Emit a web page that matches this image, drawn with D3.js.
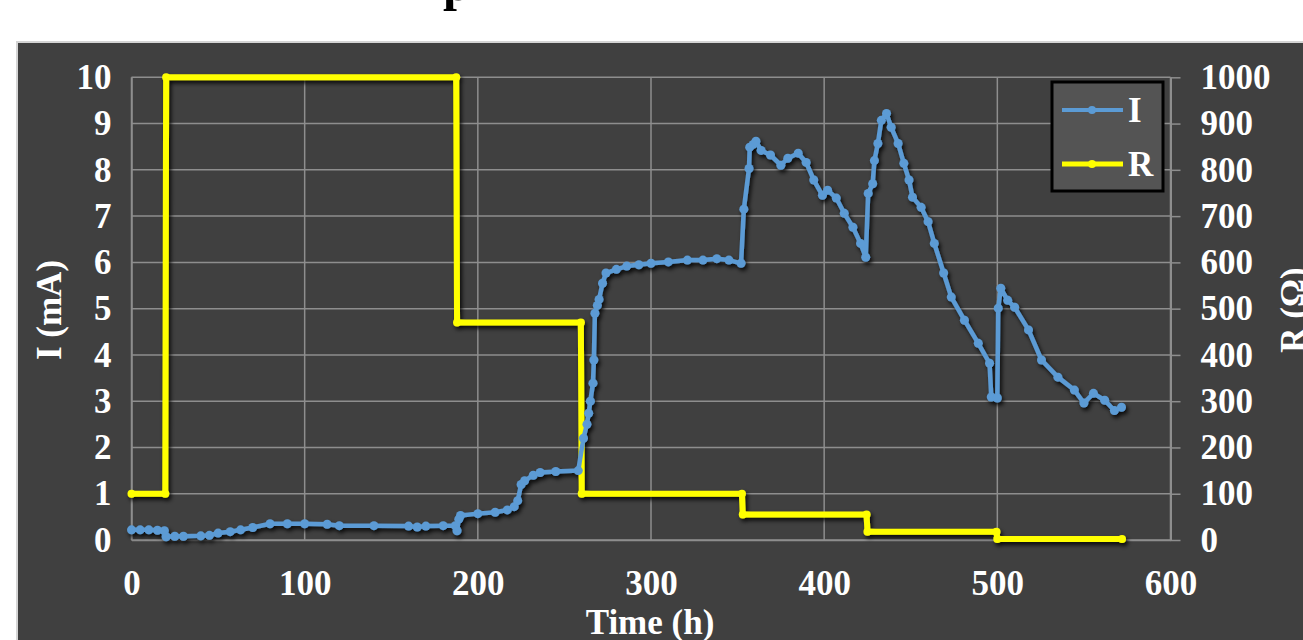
<!DOCTYPE html>
<html>
<head>
<meta charset="utf-8">
<script src="https://cdn.jsdelivr.net/npm/d3@7"></script>
<style>
  body { margin: 0; background: #ffffff; }
  svg { display: block; }
  .tick text { font-family: "Liberation Serif", serif; font-weight: bold; fill: #ffffff; }
</style>
</head>
<body>
<div id="plot"></div>
<script>
// current I (mA) vs time (h)
const timeI = [0, 5, 10, 15, 19, 20, 25, 30, 40, 45, 50, 57, 63, 70, 80, 90, 100, 113, 120, 140,
  160, 165, 170, 180, 187, 188, 189, 190, 200, 210, 217, 221, 223, 225, 227, 232, 236, 245, 258,
  261, 263, 264, 265, 266.5, 267, 267.6, 269, 270, 272, 274, 280, 286, 293, 300, 310, 321, 330, 338, 345, 352,
  353.6, 356.6, 357, 359, 360.6, 363.6, 369, 375, 379, 385, 389.6, 394, 399, 402, 407, 411.6, 416.6, 421, 424,
  425.4, 428, 429, 431, 433, 436, 438.7, 442.7, 446, 449, 451, 456, 460, 463.6, 469, 473.4, 481, 489, 495.5,
  496.5, 500, 500.5, 502, 506, 510, 518, 525.5, 535, 544.5, 550, 555.5, 562, 567.6, 571.7];
const currentI = [0.22, 0.22, 0.22, 0.21, 0.2, 0.07, 0.08, 0.08, 0.09, 0.1, 0.15, 0.18, 0.22, 0.27, 0.35, 0.35, 0.35, 0.34, 0.31, 0.31,
  0.3, 0.28, 0.3, 0.31, 0.31, 0.2, 0.45, 0.53, 0.57, 0.6, 0.65, 0.72, 0.85, 1.2, 1.28, 1.4, 1.46, 1.48, 1.5,
  2.2, 2.5, 2.74, 3.0, 3.39, 3.89, 4.9, 5.07, 5.2, 5.55, 5.77, 5.85, 5.92, 5.95, 5.98, 6.01, 6.05, 6.05, 6.08, 6.05, 5.98,
  7.15, 8.03, 8.49, 8.55, 8.62, 8.42, 8.32, 8.1, 8.25, 8.36, 8.16, 7.78, 7.45, 7.56, 7.39, 7.06, 6.76, 6.41, 6.11,
  7.49, 7.7, 8.2, 8.57, 9.07, 9.22, 8.92, 8.57, 8.14, 7.78, 7.41, 7.19, 6.88, 6.41, 5.77, 5.25, 4.75, 4.25, 3.82,
  3.09, 3.07, 5.01, 5.44, 5.18, 5.03, 4.54, 3.89, 3.52, 3.24, 2.96, 3.17, 3.02, 2.8, 2.87];

// resistance R (ohm) vs time (h)
const timeR = [0, 19.5, 20, 187.5, 188, 259.5, 260, 352.5, 353, 424.5, 425, 499.5, 500, 572];
const resistR = [100, 100, 1000, 1000, 470, 470, 100, 100, 55, 55, 18, 18, 2, 2];

const xTicks = [0, 100, 200, 300, 400, 500, 600];
const yLeftTicks = [0, 1, 2, 3, 4, 5, 6, 7, 8, 9, 10];
const yRightTicks = [0, 100, 200, 300, 400, 500, 600, 700, 800, 900, 1000];

const W = 1303, H = 640;
const margin = {left: 131.5, right: W - 1170.5, top: 77.3, bottom: H - 540};
const width = W - margin.left - margin.right;
const height = H - margin.top - margin.bottom;
const serif = '"Liberation Serif", "Times New Roman", serif';

const svg = d3.select("#plot").append("svg")
    .attr("width", W)
    .attr("height", H);

const defs = svg.append("defs");
defs.append("filter").attr("id", "shadow")
    .attr("x", "-5%").attr("y", "-5%").attr("width", "110%").attr("height", "115%")
  .append("feDropShadow")
    .attr("dx", 2).attr("dy", 3).attr("stdDeviation", 2)
    .attr("flood-color", "#000").attr("flood-opacity", 0.85);

// dark chart area
svg.append("rect")
    .attr("x", 17).attr("y", 42)
    .attr("width", W - 17 + 5).attr("height", H - 42 + 5)
    .attr("fill", "#404040")
    .attr("stroke", "#d4d4d4").attr("stroke-width", 2);

// partly visible title
svg.append("text")
    .attr("x", 457).attr("y", 0)
    .attr("text-anchor", "middle")
    .attr("font-family", serif).attr("font-weight", "bold")
    .attr("font-size", 50).attr("fill", "#000")
    .text("p");

const g = svg.append("g")
    .attr("transform", "translate(" + margin.left + "," + margin.top + ")");

const x = d3.scaleLinear().domain([0, 600]).range([0, width]);
const yI = d3.scaleLinear().domain([0, 10]).range([height, 0]);
const yR = d3.scaleLinear().domain([0, 1000]).range([height, 0]);

const gridColor = "#8e8e8e";

// grid lines
g.append("g")
    .selectAll("line.hg")
    .data(yLeftTicks)
    .enter().append("line")
    .attr("x1", 0).attr("x2", width)
    .attr("y1", d => yI(d)).attr("y2", d => yI(d))
    .attr("stroke", gridColor).attr("stroke-width", 1.5);
g.append("g")
    .selectAll("line.vg")
    .data(xTicks)
    .enter().append("line")
    .attr("x1", d => x(d)).attr("x2", d => x(d))
    .attr("y1", 0).attr("y2", height)
    .attr("stroke", gridColor).attr("stroke-width", 1.5);

// axes
const xAxis = g.append("g")
    .attr("transform", "translate(0," + height + ")")
    .call(d3.axisBottom(x).tickValues(xTicks).tickSize(0).tickPadding(30));
xAxis.select(".domain").attr("stroke", gridColor).attr("stroke-width", 1.5);
xAxis.selectAll(".tick text").attr("font-size", 35);

const yAxisL = g.append("g")
    .call(d3.axisLeft(yI).tickValues(yLeftTicks).tickSize(0).tickPadding(20));
yAxisL.select(".domain").attr("stroke", gridColor).attr("stroke-width", 1.5);
yAxisL.selectAll(".tick text").attr("font-size", 35);

const yAxisR = g.append("g")
    .attr("transform", "translate(" + width + ",0)")
    .call(d3.axisRight(yR).tickValues(yRightTicks).tickFormat(d3.format("d"))
      .tickSize(10).tickSizeOuter(0).tickPadding(20));
yAxisR.select(".domain").attr("stroke", gridColor).attr("stroke-width", 2);
yAxisR.selectAll(".tick line").attr("stroke", gridColor).attr("stroke-width", 1.5);
yAxisR.selectAll(".tick text").attr("font-size", 35);

// series
const iPts = timeI.map((t, i) => [t, currentI[i]]);
const rPts = timeR.map((t, i) => [t, resistR[i]]);

const seriesG = g.append("g").attr("filter", "url(#shadow)");

seriesG.append("path")
    .datum(rPts)
    .attr("fill", "none")
    .attr("stroke", "#ffff00")
    .attr("stroke-width", 6)
    .attr("stroke-linejoin", "round")
    .attr("d", d3.line().x(d => x(d[0])).y(d => yR(d[1])));
seriesG.selectAll("circle.r")
    .data(rPts)
    .enter().append("circle")
    .attr("cx", d => x(d[0])).attr("cy", d => yR(d[1]))
    .attr("r", 4).attr("fill", "#ffff00");

seriesG.append("path")
    .datum(iPts)
    .attr("fill", "none")
    .attr("stroke", "#5b9bd5")
    .attr("stroke-width", 4.5)
    .attr("stroke-linejoin", "round")
    .attr("d", d3.line().x(d => x(d[0])).y(d => yI(d[1])));
seriesG.selectAll("circle.i")
    .data(iPts)
    .enter().append("circle")
    .attr("cx", d => x(d[0])).attr("cy", d => yI(d[1]))
    .attr("r", 4.5).attr("fill", "#5b9bd5");

// axis titles
svg.append("text")
    .attr("transform", "translate(61,310) rotate(-90)")
    .attr("text-anchor", "middle")
    .attr("font-family", serif).attr("font-weight", "bold")
    .attr("font-size", 35).attr("fill", "#fff")
    .text("I (mA)");
svg.append("text")
    .attr("transform", "translate(1305,310) rotate(-90)")
    .attr("text-anchor", "middle")
    .attr("font-family", serif).attr("font-weight", "bold")
    .attr("font-size", 35).attr("fill", "#fff")
    .text("R (Ω)");
svg.append("text")
    .attr("x", 650).attr("y", 634)
    .attr("text-anchor", "middle")
    .attr("font-family", serif).attr("font-weight", "bold")
    .attr("font-size", 35).attr("fill", "#fff")
    .text("Time (h)");

// legend
const legend = svg.append("g").attr("transform", "translate(1052,82)");
legend.append("rect")
    .attr("width", 111).attr("height", 109)
    .attr("fill", "#545454")
    .attr("stroke", "#000").attr("stroke-width", 3);
const legItems = [{name: "I", color: "#5b9bd5", w: 4, y: 28}, {name: "R", color: "#ffff00", w: 5, y: 82}];
legItems.forEach(it => {
  legend.append("line")
      .attr("x1", 10).attr("x2", 71).attr("y1", it.y).attr("y2", it.y)
      .attr("stroke", it.color).attr("stroke-width", it.w);
  legend.append("circle")
      .attr("cx", 40).attr("cy", it.y).attr("r", 4).attr("fill", it.color);
  legend.append("text")
      .attr("x", 76).attr("y", it.y + 12)
      .attr("font-family", serif).attr("font-weight", "bold")
      .attr("font-size", 35).attr("fill", "#fff")
      .text(it.name);
});
</script>
</body>
</html>
